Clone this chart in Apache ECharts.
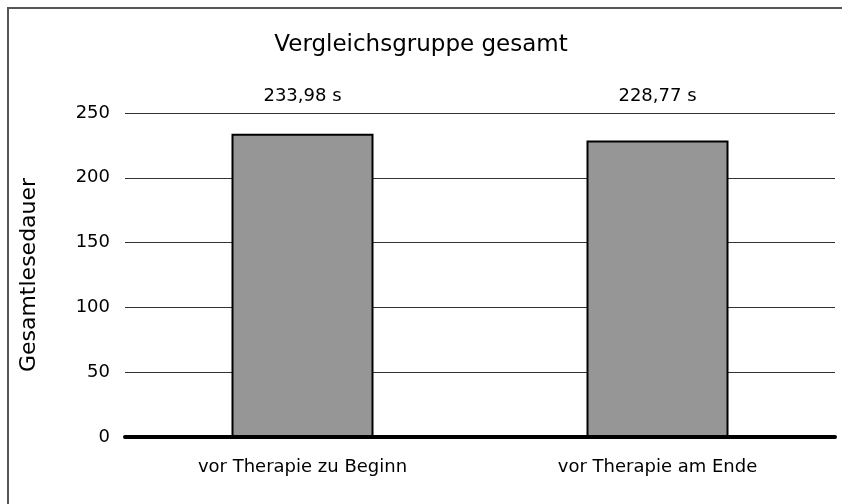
<!DOCTYPE html>
<html>
<head>
<meta charset="utf-8">
<script src="https://cdn.jsdelivr.net/npm/echarts@6/dist/echarts.min.js"></script>
<style>
  html, body { margin: 0; padding: 0; background: #fff; }
  #frame { position: absolute; left: 0; top: 0; width: 842px; height: 504px; }
  #border { position: absolute; left: 7px; top: 7px; width: 900px; height: 600px;
            border-left: 2px solid #555; border-top: 2px solid #555; }
  #chart { position: absolute; left: 0; top: 0; width: 842px; height: 504px; }
</style>
</head>
<body>
<div id="frame">
  <div id="border"></div>
  <div id="chart"></div>
</div>
<script>
  var categories = ['vor Therapie zu Beginn', 'vor Therapie am Ende']
  var values = [233.98, 228.77]
  var yTicks = [0, 50, 100, 150, 200, 250]

  // Werte als "233,98 s" formatieren
  var valueLabels = values.map(function (v) {
    return v.toFixed(2).replace('.', ',') + ' s'
  })

  var chart = echarts.init(document.getElementById('chart'), null, { renderer: 'canvas' })
  var font = 'DejaVu Sans, Arial, sans-serif'

  var option = {
    backgroundColor: 'transparent',
    animation: false,
    title: {
      text: 'Vergleichsgruppe gesamt',
      left: 'center',
      top: 29,
      textStyle: { fontFamily: font, fontSize: 23, fontWeight: 'normal', color: '#000' }
    },
    grid: { left: 125, right: 7, top: 113, bottom: 67 },
    xAxis: [
      {
        type: 'category',
        data: categories,
        axisLine: { lineStyle: { color: '#000', width: 4 } },
        axisTick: { show: false },
        axisLabel: { fontFamily: font, fontSize: 18, color: '#000', margin: 21 }
      },
      {
        // Werte oberhalb der Zeichenfläche
        type: 'category',
        position: 'top',
        data: valueLabels,
        axisLine: { show: false },
        axisTick: { show: false },
        axisLabel: { fontFamily: font, fontSize: 18, color: '#000', margin: 8 }
      }
    ],
    yAxis: {
      type: 'value',
      min: yTicks[0],
      max: yTicks[yTicks.length - 1],
      interval: 50,
      name: 'Gesamtlesedauer',
      nameLocation: 'middle',
      nameGap: 85,
      nameTextStyle: { fontFamily: font, fontSize: 22, color: '#000' },
      axisLine: { show: false },
      axisTick: { show: false },
      axisLabel: { fontFamily: font, fontSize: 18, color: '#000', margin: 15 },
      splitLine: { lineStyle: { color: '#333', width: 1 } }
    },
    series: [
      {
        type: 'bar',
        data: values,
        barWidth: '40%',
        itemStyle: { color: '#969696', borderColor: '#000', borderWidth: 2 }
      }
    ]
  }

  chart.setOption(option)
  window.addEventListener('resize', function () { chart.resize() })
</script>
</body>
</html>
